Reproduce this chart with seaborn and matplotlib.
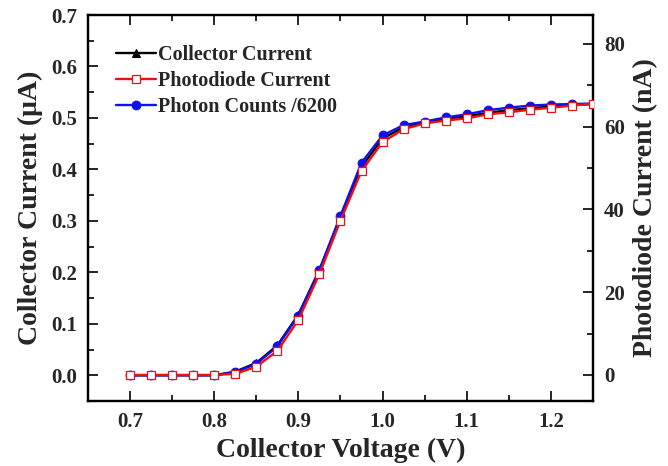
import matplotlib
matplotlib.use("Agg")
import matplotlib.pyplot as plt
from matplotlib.ticker import MultipleLocator
import seaborn as sns
import pandas as pd

voltage = [0.700, 0.725, 0.750, 0.775, 0.800, 0.825, 0.850, 0.875, 0.900, 0.925, 0.950, 0.975,
           1.000, 1.025, 1.050, 1.075, 1.100, 1.125, 1.150, 1.175, 1.200, 1.225, 1.250]
collector_current = [0.0, 0.0, 0.0, 0.0, 0.0, 0.007, 0.024, 0.058, 0.118, 0.205, 0.308, 0.405,
                     0.460, 0.482, 0.491, 0.498, 0.503, 0.510, 0.515, 0.519, 0.522, 0.525, 0.527]
photon_counts = [0.0, 0.0, 0.0, 0.0, 0.0, 0.006, 0.022, 0.056, 0.116, 0.204, 0.310, 0.413,
                 0.466, 0.486, 0.493, 0.501, 0.507, 0.515, 0.520, 0.524, 0.526, 0.527, 0.528]
photodiode_nA = [0.0, 0.0, 0.0, 0.0, 0.0, 0.25, 2.0, 5.8, 13.3, 24.4, 37.3, 49.3,
                 56.3, 59.4, 60.8, 61.5, 62.0, 63.0, 63.5, 64.1, 64.6, 65.1, 65.6]

x_ticks = [0.7, 0.8, 0.9, 1.0, 1.1, 1.2]

df = pd.DataFrame({"V": voltage, "Ic": collector_current, "Ph": photon_counts, "Pd": photodiode_nA})

sns.set_style("ticks")
plt.rcParams["font.family"] = ["Liberation Serif", "DejaVu Serif"]
plt.rcParams["font.weight"] = "bold"
plt.rcParams["axes.labelweight"] = "bold"
plt.rcParams["mathtext.default"] = "regular"

fig = plt.figure(figsize=(6.68, 4.66), dpi=100)
ax = fig.add_axes([0.1317, 0.1395, 0.7560, 0.8283])
ax2 = ax.twinx()

lw = 1.7
sns.lineplot(data=df, x="V", y="Ic", ax=ax, color="black", marker="^", markersize=6,
             markeredgecolor="black", markerfacecolor="black", linewidth=lw,
             label="Collector Current", zorder=3)
sns.lineplot(data=df, x="V", y="Ph", ax=ax, color="#1010ee", marker="o", markersize=6.3,
             markeredgecolor="#1010ee", markerfacecolor="#1010ee", linewidth=lw,
             label="Photon Counts /6200", zorder=4)
sns.lineplot(data=df, x="V", y="Pd", ax=ax2, color="#ee1010", marker="s", markersize=5.8,
             markeredgecolor="#ee1010", markerfacecolor="white", markeredgewidth=0.9,
             linewidth=lw, label="Photodiode Current", zorder=5)

ax.set_xlim(0.65, 1.25)
ax.set_ylim(-0.05, 0.70)
ax2.set_ylim(-6.3, 87.0)

ax.set_xticks(x_ticks)
ax.xaxis.set_minor_locator(MultipleLocator(0.05))
ax.yaxis.set_major_locator(MultipleLocator(0.1))
ax.yaxis.set_minor_locator(MultipleLocator(0.05))
ax2.yaxis.set_major_locator(MultipleLocator(20))
ax2.yaxis.set_minor_locator(MultipleLocator(10))
ax.xaxis.set_major_formatter(matplotlib.ticker.FormatStrFormatter("%.1f"))
ax.yaxis.set_major_formatter(matplotlib.ticker.FormatStrFormatter("%.1f"))

ax.set_xlabel("Collector Voltage (V)", fontsize=20, fontweight="bold", labelpad=4)
ax.set_ylabel("Collector Current (μA)", fontsize=20, fontweight="bold", labelpad=6)
ax2.set_ylabel("Photodiode Current (nA)", fontsize=20, fontweight="bold", labelpad=6)

for a in (ax, ax2):
    for s in a.spines.values():
        s.set_visible(True)
        s.set_linewidth(1.6)
        s.set_color("black")
ax.tick_params(axis="both", which="both", direction="in", width=1.4, labelsize=15,
               top=True, right=False)
ax.tick_params(which="major", length=7, pad=8)
ax.tick_params(which="minor", length=4)
ax2.tick_params(axis="y", which="both", direction="in", width=1.4, labelsize=15)
ax2.tick_params(which="major", length=7, pad=8)
ax2.tick_params(which="minor", length=4)
for lab in ax.get_xticklabels() + ax.get_yticklabels() + ax2.get_yticklabels():
    lab.set_fontweight("bold")

h1, l1 = ax.get_legend_handles_labels()
h2, l2 = ax2.get_legend_handles_labels()
if ax2.get_legend():
    ax2.get_legend().remove()
handles = [h1[0], h2[0], h1[1]]
labels = [l1[0], l2[0], l1[1]]
ax.legend(handles, labels, loc="upper left", frameon=False,
          prop={"weight": "bold", "size": 14.5}, handlelength=2.0, handletextpad=0.1,
          labelspacing=0.3, borderaxespad=0.6, bbox_to_anchor=(0.016, 0.975))

fig.savefig("out.png", dpi=100)
